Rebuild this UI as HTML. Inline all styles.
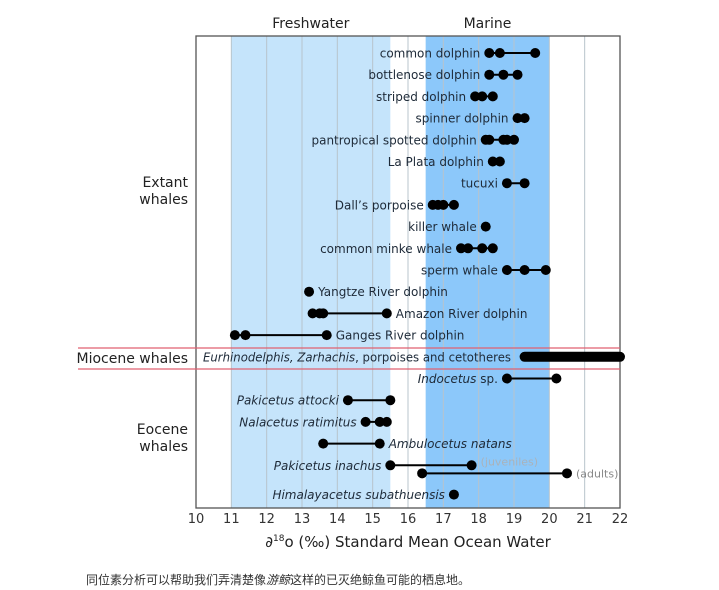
<!DOCTYPE html>
<html><head><meta charset="utf-8"><style>
body{margin:0;background:#fff;width:719px;height:590px;overflow:hidden;font-family:"DejaVu Sans","Liberation Sans",sans-serif}
svg text{font-family:"DejaVu Sans","Liberation Sans",sans-serif}
.cap{position:absolute;left:86px;top:571px;font-size:12px;color:#333;font-family:"Liberation Sans","Noto Sans CJK SC",sans-serif}
</style></head><body>
<svg id="chart" width="719" height="590" style="position:absolute;left:0;top:0">
<g id="bands"></g><g id="grid"></g><g id="marks"></g><g id="labels"></g>
</svg>
<div class="cap">同位素分析可以帮助我们弄清楚像<i>游鲸</i>这样的已灭绝鲸鱼可能的栖息地。</div>
<script>
const species=["common dolphin","bottlenose dolphin","striped dolphin","spinner dolphin","pantropical spotted dolphin","La Plata dolphin","tucuxi","Dall’s porpoise","killer whale","common minke whale","sperm whale","Yangtze River dolphin","Amazon River dolphin","Ganges River dolphin","Eurhinodelphis, Zarhachis, porpoises and cetotheres","Indocetus sp.","Pakicetus attocki","Nalacetus ratimitus","Ambulocetus natans","Pakicetus inachus","","Himalayacetus subathuensis"];
const rowIndex=[0,1,2,3,4,5,6,7,8,9,10,11,12,13,14,15,16,17,18,19,19.37,20.35];
const values=[[18.3,18.6,19.6],[18.3,18.7,19.1],[17.9,18.1,18.4],[19.1,19.3],[18.2,18.3,18.7,18.8,19.0],[18.4,18.6],[18.8,19.3],[16.7,16.85,17.0,17.3],[18.2],[17.5,17.7,18.1,18.4],[18.8,19.3,19.9],[13.2],[13.3,13.5,13.6,15.4],[11.1,11.4,13.7],[19.3,22],[18.8,20.2],[14.3,15.5],[14.8,15.2,15.4],[13.6,15.2],[15.5,17.8],[16.4,20.5],[17.3]];
const labelSide=["l","l","l","l","l","l","l","l","l","l","l","r","r","r","l","l","l","l","r","l","","l"];
const xTicks=[10,11,12,13,14,15,16,17,18,19,20,21,22];
const freshBand=[11,15.5], marineBand=[16.5,20];
const X0=196,X1=620,Y0=36,Y1=508;
const x=v=>X0+(v-10)/12*(X1-X0);
const y=i=>53+i*21.7;
const NS="http://www.w3.org/2000/svg";
function mk(t,a,p){const e=document.createElementNS(NS,t);for(const k in a)e.setAttribute(k,a[k]);p.appendChild(e);return e;}
const B=document.getElementById('bands'),G=document.getElementById('grid'),M=document.getElementById('marks'),L=document.getElementById('labels');
let r=mk('rect',{x:x(freshBand[0]),y:Y0,width:x(freshBand[1])-x(freshBand[0]),height:Y1-Y0,fill:'#c5e4fb'},B);


r=mk('rect',{x:x(marineBand[0]),y:Y0,width:x(marineBand[1])-x(marineBand[0]),height:Y1-Y0,fill:'#8cc8fa'},B);


xTicks.forEach(t=>{
 if(t>10&&t<22){const l=mk('line',{x1:x(t),x2:x(t),y1:Y0,y2:Y1,stroke:'#b8c4cc','stroke-width':1},G);
 
 }
 const tx=mk('text',{x:x(t),y:523,'text-anchor':'middle','font-size':13,fill:'#333'},L);tx.textContent=t;
 
 
});
r=mk('rect',{x:X0,y:Y0,width:X1-X0,height:Y1-Y0,fill:'none',stroke:'#555','stroke-width':1.3},G);


[348,369].forEach((yy,k)=>{const l=mk('line',{x1:78,x2:X1,y1:yy,y2:yy,stroke:'#e06070','stroke-width':1.3},G);

});
species.forEach((s,i)=>{
 const v=values[i],yy=y(rowIndex[i]),mn=Math.min(...v),mx=Math.max(...v);
 const g=mk('g',{},M);
 
 
 if(i===14){mk('line',{x1:x(mn),x2:x(mx),y1:yy,y2:yy,stroke:'#000','stroke-width':10,'stroke-linecap':'round'},g);}
 else{mk('line',{x1:x(mn),x2:x(mx),y1:yy,y2:yy,stroke:'#000','stroke-width':2},g);
 v.forEach(d=>{const c=mk('circle',{cx:x(d),cy:yy,r:5,fill:'#000'},g);
 
 });}
 if(!s)return;
 const italic=i>=14;
 let t;
 if(i===14){t=mk('text',{x:203,y:yy+4.5,'font-size':12,fill:'#1e2a38',textLength:308,lengthAdjust:'spacingAndGlyphs'},L);
  t.innerHTML='<tspan font-style="italic">Eurhinodelphis, Zarhachis</tspan>, porpoises and cetotheres';}
 else{const side=labelSide[i];
  t=mk('text',{x:side==='l'?x(mn)-9:x(mx)+9,y:yy+4.5,'text-anchor':side==='l'?'end':'start','font-size':12,fill:'#1e2a38'},L);
  if(italic){t.setAttribute('font-style','italic');}
  t.textContent=s;
  if(i===15){t.innerHTML='<tspan font-style="italic">Indocetus</tspan><tspan font-style="normal"> sp.</tspan>';t.removeAttribute('font-style');}}
 
 
});
const extra=[['(juveniles)',x(17.8)+9,y(19)+0,'#aab2ba'],['(adults)',x(20.5)+9,y(19.37)+4,'#888']];
extra.forEach(e=>{const t=mk('text',{x:e[1],y:e[2],'font-size':11,fill:e[3]},L);t.textContent=e[0];

});
const heads=[['Freshwater',x(13.25),28],['Marine',x(18.25),28]];
heads.forEach(h=>{const t=mk('text',{x:h[1],y:h[2],'text-anchor':'middle','font-size':14,fill:'#222'},L);t.textContent=h[0];

});
const groups=[['Extant',188,187],['whales',188,204],['Eocene',188,434],['whales',188,451],['Miocene whales',188,363]];
groups.forEach(g=>{const t=mk('text',{x:g[1],y:g[2],'text-anchor':'end','font-size':14,fill:'#222'},L);t.textContent=g[0];

});
const at=mk('text',{x:408,y:547,'text-anchor':'middle','font-size':15,fill:'#222'},L);
at.innerHTML='∂<tspan font-size="9" dy="-6">18</tspan><tspan dy="6">o (‰) Standard Mean Ocean Water</tspan>';


</script>
</body></html>
